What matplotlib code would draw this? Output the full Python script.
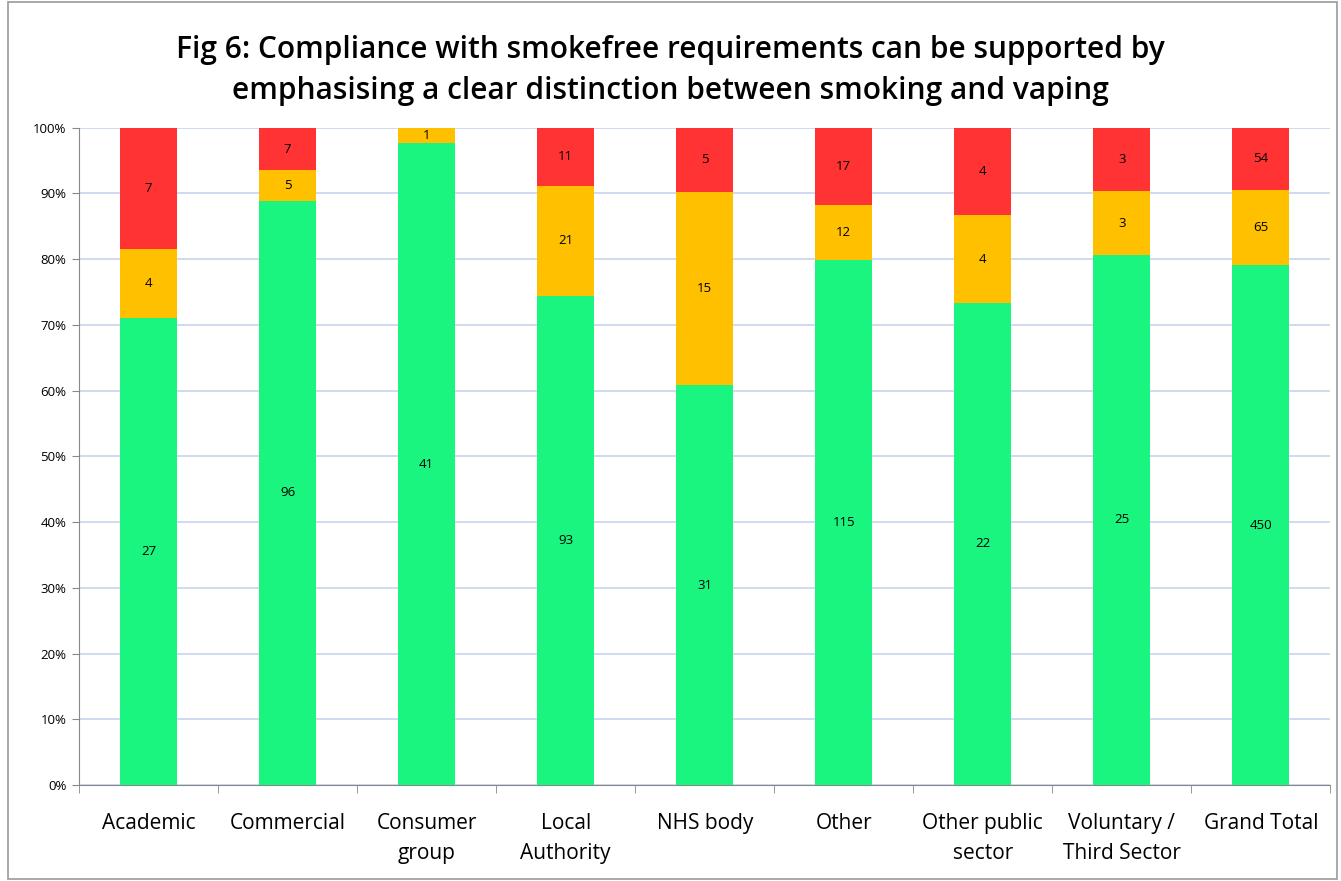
import numpy as np
import matplotlib
matplotlib.use('Agg')
import matplotlib.pyplot as plt
from matplotlib.patches import Rectangle

categories = ['Academic', 'Commercial', 'Consumer\ngroup', 'Local\nAuthority', 'NHS body',
              'Other', 'Other public\nsector', 'Voluntary /\nThird Sector', 'Grand Total']
green_vals = [27, 96, 41, 93, 31, 115, 22, 25, 450]
amber_vals = [4, 5, 1, 21, 15, 12, 4, 3, 65]
red_vals = [7, 7, 0, 11, 5, 17, 4, 3, 54]

colours = ['#1AF580', '#FFC000', '#FF3333']

plt.rcParams['font.family'] = ['Open Sans', 'DejaVu Sans']

fig = plt.figure(figsize=(13.41, 8.81), dpi=100)
ax = fig.add_axes([0.059, 0.109, 0.933, 0.746])

series = [np.array(green_vals, float), np.array(amber_vals, float), np.array(red_vals, float)]
total = sum(series)
x = np.arange(len(categories))
bottom = np.zeros(len(categories))
for vals, col in zip(series, colours):
    frac = vals / total
    ax.bar(x, frac, 0.41, bottom=bottom, color=col, zorder=3)
    for xi, v, b, f in zip(x, vals, bottom, frac):
        if v > 0:
            ax.text(xi, b + f / 2, f'{int(v)}', ha='center', va='center', fontsize=9.5, zorder=4)
    bottom = bottom + frac

ax.set_xlim(-0.5, len(categories) - 0.5)
ax.set_ylim(0, 1)
ax.set_yticks(np.arange(0, 1.01, 0.1))
ax.set_yticklabels([f'{int(round(t*100))}%' for t in np.arange(0, 1.01, 0.1)], fontsize=9.5)
ax.set_xticks(x)
ax.set_xticklabels(categories, fontsize=15, linespacing=1.55)
ax.set_xticks(np.arange(-0.5, len(categories), 1), minor=True)
ax.tick_params(axis='x', which='major', length=0, pad=20)
ax.tick_params(axis='x', which='minor', length=6, color='#888888')
ax.tick_params(axis='y', length=5, color='#888888', pad=4)
ax.grid(axis='y', color='#C8D4EC', linewidth=1.2, zorder=0)
for s in ['top', 'right']:
    ax.spines[s].set_visible(False)
for s in ['left', 'bottom']:
    ax.spines[s].set_color('#888888')

fig.text(0.5, 0.92, 'Fig 6: Compliance with smokefree requirements can be supported by\n'
         'emphasising a clear distinction between smoking and vaping',
         ha='center', va='center', fontsize=21.5, fontweight='semibold', linespacing=1.5)

fig.patches.append(Rectangle((0.006, 0.002), 0.991, 0.996, transform=fig.transFigure,
                             fill=False, edgecolor='#999999', linewidth=1.2))

fig.savefig('out.png', dpi=100)
